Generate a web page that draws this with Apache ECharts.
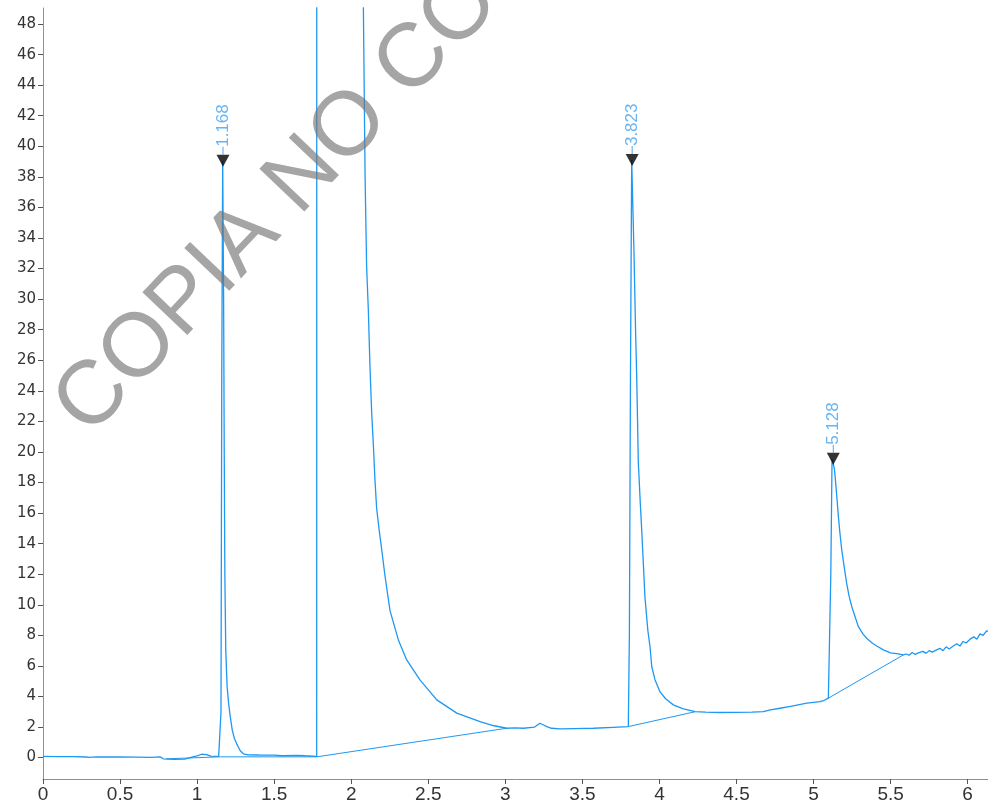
<!DOCTYPE html>
<html>
<head>
<meta charset="utf-8">
<script src="https://cdn.jsdelivr.net/npm/echarts@6/dist/echarts.min.js"></script>
<style>
html,body{margin:0;padding:0;background:#fff;}
#chart{width:988px;height:804px;}
</style>
</head>
<body>
<div id="chart"></div>
<script>
// ---- data (retention time in min, signal) ----
const traceX = [
  0.00,0.10,0.20,0.28,0.29,0.30,0.31,0.32,0.33,0.35,0.40,0.50,0.60,0.70,0.76,0.78,0.85,0.92,0.96,1.00,1.03,1.06,1.09,1.14,
  1.150,1.155,1.160,1.166,1.172,1.176,1.180,1.186,1.195,1.205,1.215,1.228,1.242,1.257,1.280,1.300,1.330,1.400,1.500,1.550,1.560,1.650,1.700,1.776,
  1.778,2.070,2.079,2.090,2.100,2.111,2.122,2.133,2.144,2.154,2.165,2.180,2.198,2.219,2.252,2.306,2.360,2.446,2.555,2.685,2.836,2.920,
  3.009,3.060,3.117,3.190,3.225,3.245,3.269,3.300,3.355,3.450,3.571,3.700,3.798,
  3.805,3.812,3.820,3.826,3.835,3.845,3.853,3.863,3.875,3.885,3.906,3.925,3.939,3.950,3.971,4.004,4.040,4.090,4.150,4.231,4.300,4.393,4.500,4.600,4.674,4.720,4.783,4.850,4.900,4.956,5.000,5.042,5.070,5.096,
  5.107,5.112,5.120,5.128,5.135,5.140,5.150,5.161,5.172,5.183,5.200,5.215,5.230,5.248,5.270,5.291,5.320,5.345,5.380,5.410,5.453,5.500,5.540,5.583,
  5.600,5.620,5.640,5.660,5.680,5.691,5.710,5.730,5.750,5.770,5.799,5.820,5.840,5.860,5.880,5.907,5.930,5.950,5.970,5.990,6.016,6.040,6.060,6.080,6.100,6.124,6.132
];
const traceY = [
  0.08,0.07,0.06,0.04,0.10,0.02,0.09,0.03,0.10,0.04,0.05,0.04,0.03,0.02,0.05,-0.08,-0.12,-0.10,0.02,0.12,0.22,0.20,0.10,0.08,
  0.10,3.0,25.0,39.05,30.0,20.0,12.0,7.0,4.6,3.5,2.7,1.8,1.25,0.9,0.45,0.25,0.18,0.17,0.16,0.12,0.18,0.15,0.12,0.08,
  300,120,49.0,38.0,32.1,29.3,25.5,22.5,20.4,18.2,16.3,15.0,13.6,11.9,9.6,7.70,6.39,5.09,3.78,2.91,2.36,2.10,
  1.92,1.95,1.92,2.00,2.25,2.15,2.03,1.92,1.88,1.90,1.92,1.98,2.03,
  8.0,25.0,39.1,39.1,33.0,28.0,24.7,19.3,16.8,14.9,10.5,8.3,7.25,5.96,5.10,4.30,3.85,3.45,3.20,3.01,2.97,2.95,2.96,2.98,3.01,3.12,3.23,3.35,3.45,3.56,3.62,3.66,3.75,3.89,
  4.0,12.0,19.55,19.6,18.9,18.4,17.2,15.8,14.6,13.6,12.4,11.4,10.6,9.88,9.2,8.57,8.1,7.81,7.5,7.3,7.05,6.85,6.80,6.72,
  6.78,6.70,6.88,6.75,6.85,6.80,6.95,6.82,7.00,6.90,7.05,7.15,7.00,7.25,7.10,7.30,7.45,7.30,7.60,7.50,7.75,7.90,7.75,8.10,8.00,8.30,8.25
];
// integration baselines
const baseline1 = [[0.80, -0.08], [1.150, 0.05]];
const baseline2 = [[1.150, 0.05], [1.776, 0.05]];
const baseline3 = [[1.776, 0.05], [3.009, 1.92]];
const baseline4 = [[3.798, 2.03], [4.231, 3.00]];
const baseline5 = [[5.096, 3.89], [5.583, 6.72]];
// peaks
const peakTimes = [1.168, 3.823, 5.128];
const peakHeights = [39.05, 39.1, 19.55];
const peakLabels = ['1.168', '3.823', '5.128'];
// ticks
const xTicks = [0, 0.5, 1, 1.5, 2, 2.5, 3, 3.5, 4, 4.5, 5, 5.5, 6];
const yTicks = [0, 2, 4, 6, 8, 10, 12, 14, 16, 18, 20, 22, 24, 26, 28, 30, 32, 34, 36, 38, 40, 42, 44, 46, 48];
const watermark = 'COPIA NO CONTROLADA';

const chart = echarts.init(document.getElementById('chart'), null, {renderer: 'canvas'});
const LINE = '#1e98f2';
const AXIS = '#8e8ea2';

function seg(d) {
  return {type: 'line', data: d, showSymbol: false, symbol: 'none', silent: true,
          lineStyle: {color: LINE, width: 1}, z: 3, animation: false};
}

const wmAngle = 46.5 * Math.PI / 180;
const wmGraphic = {
  type: 'text', x: 104, y: 452, rotation: wmAngle, z: 100, silent: true,
  style: {text: watermark, font: '90px "Liberation Sans", Arial, sans-serif',
          fill: 'rgba(118,118,118,0.66)', align: 'left', verticalAlign: 'bottom'}
};

chart.setOption({
  animation: false,
  backgroundColor: '#ffffff',
  grid: {left: 43, right: 0, top: 8, bottom: 25, containLabel: false},
  xAxis: {
    type: 'value', min: 0, max: 6.132,
    axisLine: {show: true, onZero: false, lineStyle: {color: AXIS, width: 1}},
    axisTick: {show: true, length: 5, inside: false, customValues: xTicks, lineStyle: {color: '#555'}},
    axisLabel: {customValues: xTicks, margin: 6, color: '#333',
                fontFamily: '"Liberation Sans", Arial, sans-serif', fontSize: 19,
                formatter: v => String(v)},
    splitLine: {show: false}
  },
  yAxis: {
    type: 'value', min: -1.4, max: 49.05,
    axisLine: {show: true, onZero: false, lineStyle: {color: AXIS, width: 1}},
    axisTick: {show: true, length: 5, inside: false, customValues: yTicks, lineStyle: {color: '#555'}},
    axisLabel: {customValues: yTicks, margin: 7, color: '#333',
                fontFamily: '"DejaVu Sans", sans-serif', fontSize: 15,
                formatter: v => String(v)},
    splitLine: {show: false}
  },
  graphic: [wmGraphic],
  series: [
    {type: 'line', data: traceX.map((x, i) => [x, traceY[i]]), showSymbol: false, symbol: 'none',
     clip: true, lineStyle: {color: LINE, width: 1.3}, z: 4, animation: false},
    seg(baseline1), seg(baseline2), seg(baseline3), seg(baseline4), seg(baseline5),
    {type: 'scatter', data: peakTimes.map((t, i) => [t, peakHeights[i]]),
     symbol: 'triangle', symbolRotate: 180, symbolSize: [13, 12],
     itemStyle: {color: '#000'}, z: 6, animation: false,
     label: {show: true, position: 'top', distance: 0, rotate: 90, align: 'left', verticalAlign: 'middle',
             formatter: p => '{d|}{t|' + peakLabels[p.dataIndex] + '}',
             rich: {
               d: {width: 8, height: 1, backgroundColor: '#2d8fe0'},
               t: {fontFamily: '"Liberation Sans", Arial, sans-serif', fontSize: 17, color: '#3ea3f2'}
             }}}
  ]
});
</script>
</body>
</html>
